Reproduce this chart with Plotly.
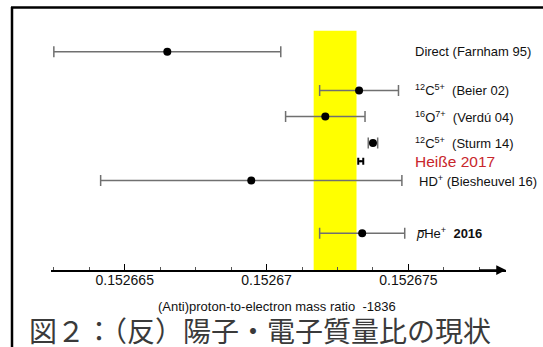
import plotly.graph_objects as go

# ---- data (mass ratio - 1836) ----
labels = [
    "Direct (Farnham 95)",
    "<sup>12</sup>C<sup>5+</sup>\u00a0\u00a0(Beier 02)",
    "<sup>16</sup>O<sup>7+</sup>\u00a0\u00a0(Verdú 04)",
    "<sup>12</sup>C<sup>5+</sup>\u00a0\u00a0(Sturm 14)",
    "Heiße 2017",
    "HD<sup>+</sup> (Biesheuvel 16)",
    "<i>p\u0305</i>He<sup>+</sup>\u00a0\u00a0<b>2016</b>",
]
values = [0.1526665, 0.15267326, 0.15267207, 0.15267375, 0.15267332, 0.15266946, 0.15267337]
errors = [4.0e-6, 1.39e-6, 1.40e-6, 0.166e-6, 0.088e-6, 5.31e-6, 1.50e-6]
band_lo, band_hi = 0.15267166, 0.15267317
tick_vals = [0.152665, 0.15267, 0.152675]
tick_text = ["0.152665", "0.15267", "0.152675"]
x_title = "(Anti)proton-to-electron mass ratio\u00a0\u00a0-1836"
caption = "図２：（反）陽子・電子質量比の現状"

# ---- layout (row levels, label offsets) ----
row_levels = [0, 1.47, 2.46, 3.46, 4.16, 4.89, 6.89]
label_px = [412.7, 412.7, 412.7, 412.7, 412.7, 417, 414.3]
label_colors = ["#111", "#111", "#111", "#111", "#c8262c", "#111", "#111"]
label_sizes = [13, 13, 13, 13, 15.5, 13, 13]

W, H = 543, 347
L, R, T, B = 51, 37, 20, 77
pw, ph = W - L - R, H - T - B
x_range = [0.15266240, 0.15267844]
y_range = [8.28, -1.2]
band_top = -0.79

def px2paper_x(px):
    return (px - L) / pw

def px2paper_y(py):
    return 1 - (py - T) / ph

FONT = "Liberation Sans, Arial, Helvetica, sans-serif"

fig = go.Figure()

main_idx = [i for i in range(len(values)) if i != 4]
fig.add_trace(go.Scatter(
    x=[values[i] for i in main_idx],
    y=[row_levels[i] for i in main_idx],
    mode="markers",
    marker=dict(color="black", size=8),
    error_x=dict(type="data", array=[errors[i] for i in main_idx],
                 color="#707070", thickness=1.5, width=5.5),
    showlegend=False, hoverinfo="skip",
))
fig.add_trace(go.Scatter(
    x=[values[4]], y=[row_levels[4]],
    mode="markers",
    marker=dict(color="black", size=2),
    error_x=dict(type="data", array=[errors[4]], color="black", thickness=2, width=3.5),
    showlegend=False, hoverinfo="skip",
))

shapes = [
    dict(type="rect", xref="x", yref="y", x0=band_lo, x1=band_hi,
         y0=band_top, y1=y_range[0], fillcolor="#ffff00", line=dict(width=0), layer="below"),
    # frame lines
    dict(type="line", xref="paper", yref="paper",
         x0=px2paper_x(12), x1=px2paper_x(12), y0=px2paper_y(7), y1=px2paper_y(350),
         line=dict(color="black", width=2.5)),
    dict(type="line", xref="paper", yref="paper",
         x0=px2paper_x(11), x1=px2paper_x(545), y0=px2paper_y(7.5), y1=px2paper_y(7.5),
         line=dict(color="black", width=2.5)),
]

annotations = []
for lab, lx, lv, col, fs in zip(labels, label_px, row_levels, label_colors, label_sizes):
    annotations.append(dict(
        text=lab, xref="paper", x=px2paper_x(lx), yref="y", y=lv,
        xanchor="left", yanchor="middle", showarrow=False,
        font=dict(family=FONT, size=fs, color=col),
    ))
# axis arrowhead
annotations.append(dict(
    x=x_range[1], y=y_range[0], ax=x_range[1] - 1.0e-6, ay=y_range[0],
    xref="x", yref="y", axref="x", ayref="y", text="",
    showarrow=True, arrowhead=2, arrowsize=1.3, arrowwidth=1.5, arrowcolor="black",
    standoff=0, startstandoff=0,
))
annotations.append(dict(
    text=x_title, xref="paper", yref="paper",
    x=px2paper_x(277), y=px2paper_y(306), xanchor="center", yanchor="middle",
    showarrow=False, font=dict(family=FONT, size=13, color="#111"),
))
annotations.append(dict(
    text=caption, xref="paper", yref="paper",
    x=px2paper_x(27), y=px2paper_y(330), xanchor="left", yanchor="middle",
    showarrow=False, font=dict(family="Noto Sans CJK JP", size=28, color="#3a3a3a"),
))

fig.update_layout(
    width=W, height=H,
    margin=dict(l=L, r=R, t=T, b=B, pad=0),
    paper_bgcolor="white", plot_bgcolor="white",
    shapes=shapes, annotations=annotations,
    xaxis=dict(
        range=x_range, showgrid=False, zeroline=False,
        showline=True, linecolor="black", linewidth=1.5,
        tickmode="array", tickvals=tick_vals, ticktext=tick_text,
        ticks="inside", ticklen=6, tickwidth=1, tickcolor="black",
        ticklabelstandoff=-3,
        minor=dict(tickmode="linear", tick0=0.152665, dtick=1.25e-6,
                   ticks="inside", ticklen=3, tickwidth=1, tickcolor="#555"),
        tickfont=dict(family=FONT, size=14, color="#111"),
        fixedrange=True,
    ),
    yaxis=dict(range=y_range, visible=False, fixedrange=True),
)

fig.write_html("out.html", config={"staticPlot": True},
               post_script="document.body.style.margin='0';document.body.style.overflow='hidden';")
